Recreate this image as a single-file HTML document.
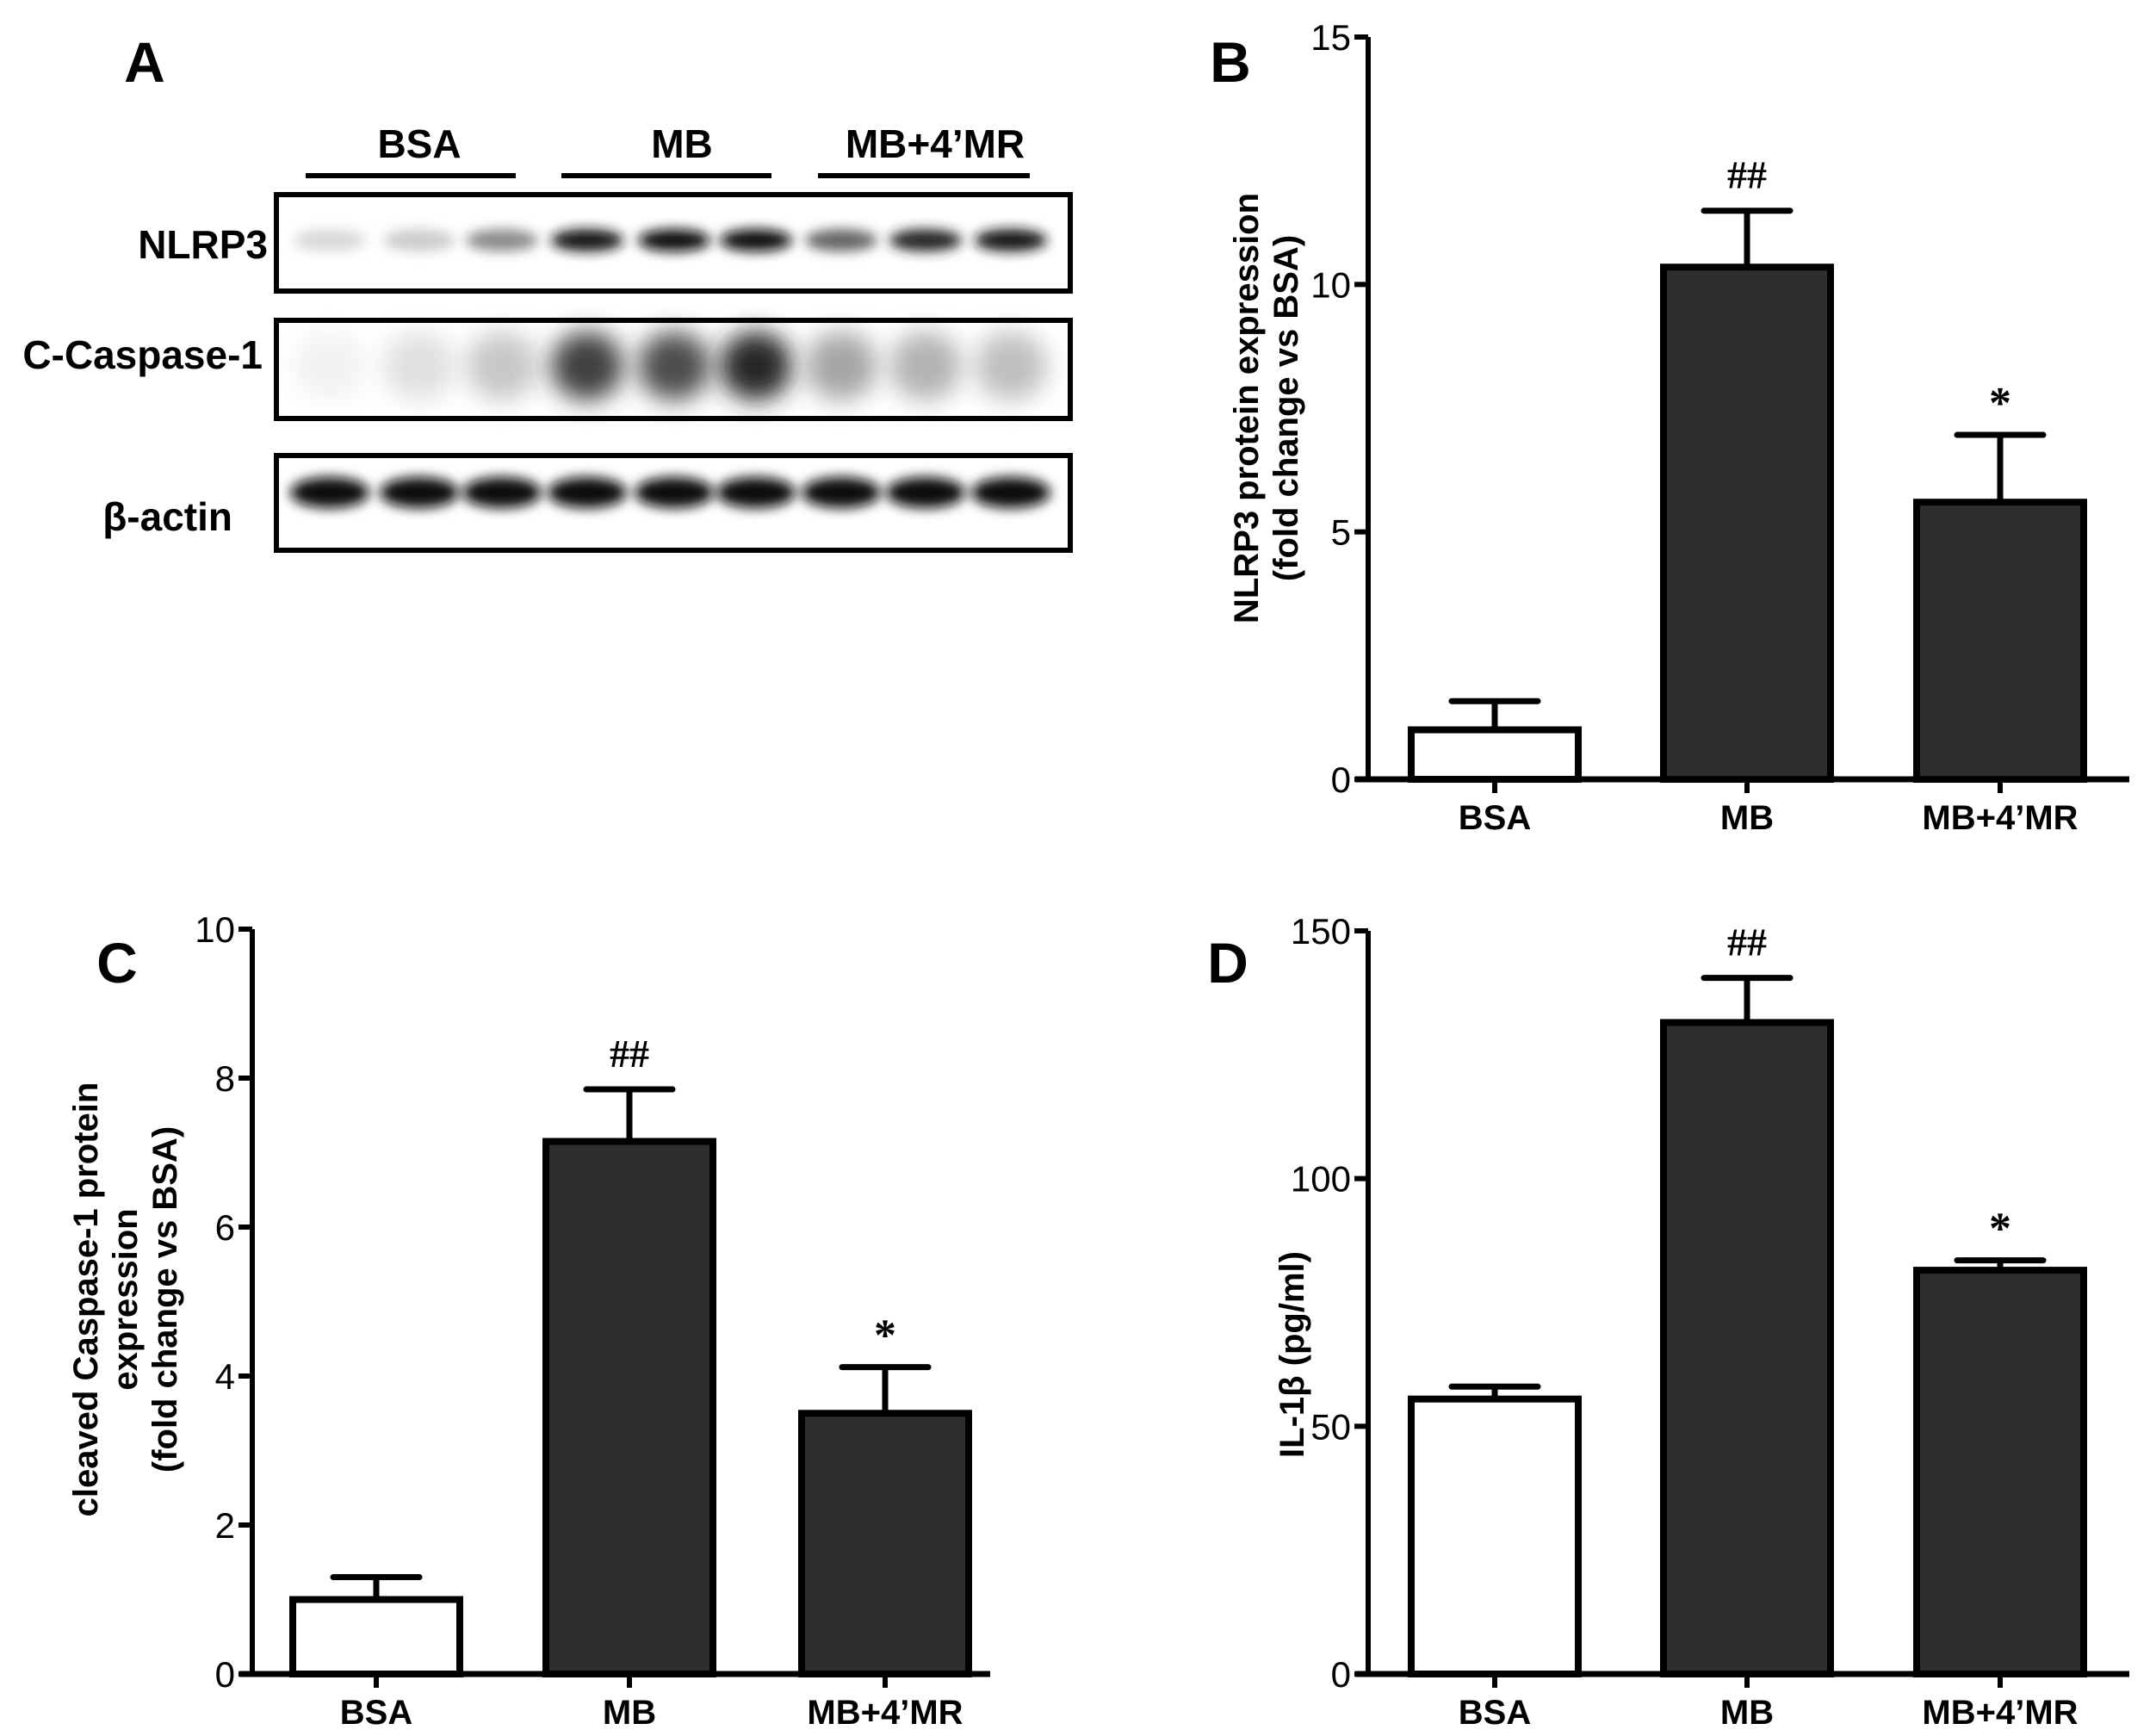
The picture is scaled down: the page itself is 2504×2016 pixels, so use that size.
<!DOCTYPE html>
<html><head><meta charset="utf-8"><style>
html,body{margin:0;padding:0;background:#fff;}
svg{display:block;font-family:"Liberation Sans",sans-serif;}
</style></head><body>
<svg id="fig" width="2504" height="2016" viewBox="0 0 2504 2016" xmlns="http://www.w3.org/2000/svg">
<defs>
<filter id="blur" x="-50%" y="-50%" width="200%" height="200%"><feGaussianBlur stdDeviation="7"/></filter>
<filter id="blur2" x="-50%" y="-50%" width="200%" height="200%"><feGaussianBlur stdDeviation="14"/></filter>
</defs>
<g id="panelA">
<text x="168" y="95" font-size="66" font-weight="bold" text-anchor="middle">A</text>
<text x="487" y="183" font-size="46" font-weight="bold" text-anchor="middle">BSA</text>
<text x="792" y="183" font-size="46" font-weight="bold" text-anchor="middle">MB</text>
<text x="1086" y="183" font-size="46" font-weight="bold" text-anchor="middle">MB+4’MR</text>
<line x1="355" y1="204" x2="599" y2="204" stroke="#000" stroke-width="6"/>
<line x1="652" y1="204" x2="896" y2="204" stroke="#000" stroke-width="6"/>
<line x1="950" y1="204" x2="1196" y2="204" stroke="#000" stroke-width="6"/>
<text x="311" y="300" font-size="46" font-weight="bold" text-anchor="end">NLRP3</text>
<text x="305" y="428" font-size="46" font-weight="bold" text-anchor="end">C-Caspase-1</text>
<text x="270" y="616" font-size="46" font-weight="bold" text-anchor="end">β-actin</text>
<g id="bands"></g>
<rect x="321" y="226" width="922" height="112" fill="none" stroke="#000" stroke-width="6"/>
<rect x="321" y="372" width="922" height="114" fill="none" stroke="#000" stroke-width="6"/>
<rect x="321" y="529" width="922" height="110" fill="none" stroke="#000" stroke-width="6"/>
</g>
<g id="charts"></g>
</svg>
<script>
// Western blot band intensities (0-1) per lane
const laneNames = ['bsa-1','bsa-2','bsa-3','mb-1','mb-2','mb-3','mr-1','mr-2','mr-3'];
const nlrp3Intensity = [0.15,0.2,0.45,0.9,0.95,0.95,0.6,0.85,0.9];
const caspaseIntensity = [0.05,0.12,0.22,0.75,0.7,0.85,0.35,0.3,0.25];
const actinIntensity = [0.97,0.97,0.95,0.95,0.95,0.97,0.95,0.95,0.97];

// Chart data
const categories = ['BSA','MB','MB+4’MR'];
const nlrp3Values = [1.0,10.35,5.6];
const nlrp3Errors = [0.58,1.14,1.36];
const nlrp3Ticks = [0,5,10,15];
const nlrp3Marks = ['','##','*'];
const caspValues = [1.0,7.15,3.5];
const caspErrors = [0.3,0.7,0.62];
const caspTicks = [0,2,4,6,8,10];
const caspMarks = ['','##','*'];
const ilValues = [55.5,131.5,81.5];
const ilErrors = [2.5,9,2];
const ilTicks = [0,50,100,150];
const ilMarks = ['','##','*'];

const NS='http://www.w3.org/2000/svg';
function mk(tag,attrs,parent){const e=document.createElementNS(NS,tag);for(const k in attrs)e.setAttribute(k,attrs[k]);parent.appendChild(e);return e;}

// bands
const bandG=document.getElementById('bands');
const laneX=[383,487,583,682,783,878,977,1075,1174];
function band(rowName, intens, cy, rx, ry, filt, i){
  const g=Math.round(255*(1-intens[i]));
  const e=mk('ellipse',{cx:laneX[i],cy:cy,rx:rx,ry:ry,fill:`rgb(${g},${g},${g})`,filter:filt},bandG);
  
  
}
for(let i=0;i<laneNames.length;i++){
  band('nlrp3',nlrp3Intensity,279,42,13,'url(#blur)',i);
  band('caspase',caspaseIntensity,425,42,40,'url(#blur2)',i);
  band('actin',actinIntensity,572,46,18,'url(#blur)',i);
}

const chartsG=document.getElementById('charts');
function chart(o){
  const g=mk('g',{},chartsG);
  
  
  const y=v=>o.y0-(v-o.min)/(o.max-o.min)*(o.y0-o.yTop);
  const t=mk('text',{x:o.letterX,y:o.letterY,'font-size':66,'font-weight':'bold','text-anchor':'middle'},g);
  t.textContent=o.letter;
  
  
  for(let i=0;i<o.values.length;i++){
    const cx=o.cx[i], top=y(o.values[i]), et=y(o.values[i]+o.errors[i]);
    const eb=mk('line',{x1:cx,y1:top,x2:cx,y2:et,stroke:'#000','stroke-width':7},g);
    
    
    const cap=mk('line',{x1:cx-50,y1:et,x2:cx+50,y2:et,stroke:'#000','stroke-width':7,'stroke-linecap':'round'},g);
    
    
    const r=mk('rect',{x:cx-97,y:top,width:194,height:o.y0-top,fill:i===0?'#fff':'#2e2e2e',stroke:'#000','stroke-width':8},g);
    
    
    if(o.marks[i]){
      const m=mk('text',{x:cx,y:et-(o.marks[i]==='*'?20:26),'font-size':o.marks[i]==='*'?52:46,'font-weight':'bold','text-anchor':'middle','font-family':'Liberation Serif, serif'},g);
      m.textContent=o.marks[i];
      
      
    }
    const tk=mk('line',{x1:cx,y1:o.y0,x2:cx,y2:o.y0+16,stroke:'#000','stroke-width':6},g);
    
    
    const lb=mk('text',{x:cx,y:o.y0+58,'font-size':40,'font-weight':'bold','text-anchor':'middle'},g);
    lb.textContent=categories[i];
    
    
  }
  const ax=mk('line',{x1:o.ax,y1:o.yTop,x2:o.ax,y2:o.y0+3,stroke:'#000','stroke-width':6},g);
  
  
  const xa=mk('line',{x1:o.ax-15,y1:o.y0,x2:o.xEnd,y2:o.y0,stroke:'#000','stroke-width':7},g);
  
  
  o.ticks.forEach((v,j)=>{
    const l=mk('line',{x1:o.ax-16,y1:y(v),x2:o.ax,y2:y(v),stroke:'#000','stroke-width':6},g);
    
    
    const tx=mk('text',{x:o.ax-20,y:y(v)+15,'font-size':42,'text-anchor':'end'},g);
    tx.textContent=v;
    
    
  });
  const tg=mk('text',{transform:`translate(${o.titleX},${o.titleY}) rotate(-90)`,'font-size':40,'font-weight':'bold','text-anchor':'middle'},g);
  
  
  o.title.forEach((line,k)=>{
    const ts=mk('tspan',{x:0,y:(k-(o.title.length-1)/2)*46+14},tg);
    ts.textContent=line;
  });
}
chart({name:'nlrp3-chart',letter:'B',letterX:1429,letterY:95,ax:1589,xEnd:2473,y0:905,yTop:43,min:0,max:15,
  cx:[1736,2029,2323],values:nlrp3Values,errors:nlrp3Errors,ticks:nlrp3Ticks,marks:nlrp3Marks,
  titleX:1470,titleY:474,title:['NLRP3 protein expression','(fold change vs BSA)']});
chart({name:'caspase-chart',letter:'C',letterX:136,letterY:1141,ax:293,xEnd:1150,y0:1944,yTop:1079,min:0,max:10,
  cx:[437,731,1028],values:caspValues,errors:caspErrors,ticks:caspTicks,marks:caspMarks,
  titleX:145,titleY:1509,title:['cleaved Caspase-1 protein','expression','(fold change vs BSA)']});
chart({name:'il1b-chart',letter:'D',letterX:1426,letterY:1141,ax:1589,xEnd:2473,y0:1944,yTop:1081,min:0,max:150,
  cx:[1736,2029,2323],values:ilValues,errors:ilErrors,ticks:ilTicks,marks:ilMarks,
  titleX:1500,titleY:1573,title:['IL-1β (pg/ml)']});
</script>
</body></html>
